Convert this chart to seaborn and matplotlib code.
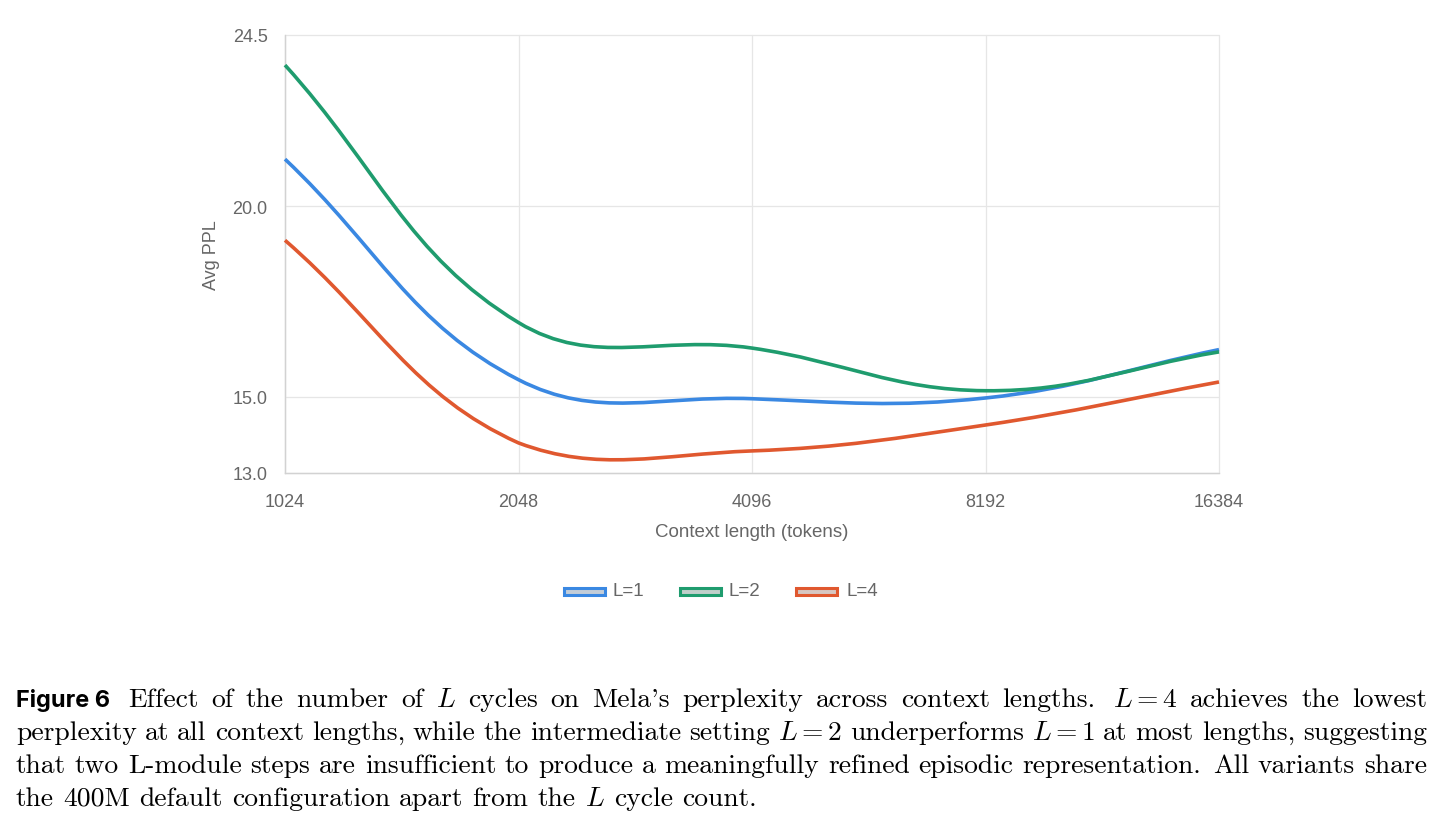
import numpy as np
import matplotlib
matplotlib.use("Agg")
import matplotlib.pyplot as plt
import seaborn as sns
from matplotlib.path import Path
from matplotlib.patches import PathPatch, Rectangle

# ---------------- data ----------------
contexts = ["1024", "2048", "4096", "8192", "16384"]
series_names = ["L=1", "L=2", "L=4"]
ppl_L1 = [21.24, 15.45, 14.95, 14.97, 16.24]
ppl_L2 = [23.71, 16.95, 16.28, 15.16, 16.18]
ppl_L4 = [19.11, 13.79, 13.58, 14.26, 15.39]
y_ticks = [13.0, 15.0, 20.0, 24.5]
x_label = "Context length (tokens)"
y_label = "Avg PPL"
caption_head = "Figure 6"
caption_lines = [
    "Effect of the number of $L$ cycles on Mela's perplexity across context lengths. $L=4$ achieves the lowest",
    "perplexity at all context lengths, while the intermediate setting $L=2$ underperforms $L=1$ at most lengths, suggesting",
    "that two L-module steps are insufficient to produce a meaningfully refined episodic representation. All variants share",
    "the 400M default configuration apart from the $L$ cycle count.",
]
colors = ["#3a88e2", "#1f9c6e", "#e0582f"]

# ---------------- style ----------------
sns.set_theme(style="white")
plt.rcParams['font.family'] = ['Liberation Sans', 'DejaVu Sans']
plt.rcParams['mathtext.fontset'] = 'cm'
TXT = "#666666"
GRID = "#e6e6e6"

W, H = 1443, 828
fig = plt.figure(figsize=(W / 100, H / 100), dpi=100)
fig.patch.set_facecolor("white")
L, R, T, B = 285, 1219, 36, 474
ax = fig.add_axes([L / W, 1 - B / H, (R - L) / W, (B - T) / H])
xs = np.arange(len(contexts))
ax.set_xlim(0, len(contexts) - 1)
ax.set_ylim(min(y_ticks), max(y_ticks))
ax.set_xticks(xs)
ax.set_xticklabels(contexts)
ax.set_yticks(y_ticks)
ax.set_yticklabels([f"{v:.1f}" for v in y_ticks])
ax.grid(True, color=GRID, lw=0.9)
ax.set_axisbelow(True)
for gl in ax.get_xgridlines() + ax.get_ygridlines():
    gl.set_clip_on(False)
sns.despine(ax=ax, top=True, right=True)
for s in ["left", "bottom"]:
    ax.spines[s].set_color("#d2d2d2")
    ax.spines[s].set_linewidth(1.0)
ax.tick_params(axis="both", direction="out", length=9.5, width=0.9, color=GRID,
               labelcolor=TXT, labelsize=13)
ax.tick_params(axis="y", pad=3)
ax.tick_params(axis="x", pad=5)
ax.set_facecolor("white")

fig.text(212 / W, 1 - 255 / H, y_label, rotation=90, ha="center", va="center",
         color=TXT, fontsize=13)
fig.text(752 / W, 1 - 533 / H, x_label, ha="center", va="center",
         color=TXT, fontsize=13.5)


# Chart.js-style spline (tension 0.4) through the data points
def chartjs_path(ax, xv, yv, t=0.4):
    pts = ax.transData.transform(np.column_stack([xv, yv]))
    n = len(pts)
    cprev, cnext = [], []
    bb = ax.bbox
    for i in range(n):
        prv = pts[i - 1] if i > 0 else pts[i]
        cur = pts[i]
        nxt = pts[i + 1] if i < n - 1 else pts[i]
        d01 = np.hypot(*(cur - prv))
        d12 = np.hypot(*(nxt - cur))
        s = d01 + d12
        s01 = d01 / s if s else 0.0
        s12 = d12 / s if s else 0.0
        p = cur - t * s01 * (nxt - prv)
        q = cur + t * s12 * (nxt - prv)
        for c in (p, q):
            c[0] = min(max(c[0], bb.x0), bb.x1)
            c[1] = min(max(c[1], bb.y0), bb.y1)
        cprev.append(p)
        cnext.append(q)
    verts = [pts[0]]
    codes = [Path.MOVETO]
    for i in range(n - 1):
        verts += [cnext[i], cprev[i + 1], pts[i + 1]]
        codes += [Path.CURVE4] * 3
    verts = ax.transData.inverted().transform(np.array(verts))
    return Path(verts, codes)


for vals, col in zip([ppl_L1, ppl_L2, ppl_L4], colors):
    path = chartjs_path(ax, xs, vals)
    ax.add_patch(PathPatch(path, facecolor="none", edgecolor=col, lw=2.6,
                           capstyle="butt", joinstyle="round", clip_on=False, zorder=3))

# ---------------- legend ----------------
leg_boxes = [562, 678, 795]
for name, col, x0 in zip(series_names, colors, leg_boxes):
    rgb = np.array(matplotlib.colors.to_rgb(col))
    face = 0.88 * np.array([0.84, 0.84, 0.84]) + 0.12 * rgb
    fig.add_artist(Rectangle(((x0 + 1.5) / W, 1 - 595.5 / H), 41 / W, 7 / H,
                             transform=fig.transFigure, facecolor=face,
                             edgecolor=col, lw=2.2))
    fig.text((x0 + 51) / W, 1 - 592 / H, name, ha="left", va="center",
             color=TXT, fontsize=13.5)

# ---------------- caption (justified) ----------------
renderer = fig.canvas.get_renderer()
left_px, right_px = 16, 1427
baselines = [707, 740, 773, 806]
base_size = 20.0


def tokens(line):
    out, cur, inmath = [], "", False
    for ch in line:
        if ch == "$":
            inmath = not inmath
            cur += ch
        elif ch == " " and not inmath:
            if cur:
                out.append(cur)
            cur = ""
        else:
            cur += ch
    if cur:
        out.append(cur)
    return out


line_toks = [tokens(l) for l in caption_lines]
texts = []
for li, toks in enumerate(line_toks):
    row = []
    for tk in toks:
        tt = fig.text(0, 0, tk, fontsize=base_size, family="cmr10", color="black",
                      ha="left", va="baseline")
        row.append(tt)
    texts.append(row)


def widths(row):
    return [t.get_window_extent(renderer).width for t in row]


# fit font size so the final (natural-spaced) line spans the measured width
target_last = 757 - left_px
w_last = widths(texts[-1])
sp_em = 0.3333
nat = sum(w_last) + (len(w_last) - 1) * sp_em * base_size * 100 / 72
size = base_size * target_last / nat
for row in texts:
    for t in row:
        t.set_fontsize(size)

head = fig.text(left_px / W, 1 - baselines[0] / H, caption_head, fontsize=15,
                family=["Inter", "Liberation Sans"], weight="bold", color="black",
                ha="left", va="baseline")
hw = head.get_window_extent(renderer).width
head.set_fontsize(15 * 94.0 / hw)

space_px = sp_em * size * 100 / 72
for li, row in enumerate(texts):
    ws = widths(row)
    start = 128 if li == 0 else left_px
    weights = [1.35 if row[k].get_text().endswith(".") else 1.0 for k in range(len(row) - 1)]
    if li < len(texts) - 1:
        gap_unit = (right_px - start - sum(ws)) / sum(weights)
    else:
        gap_unit = space_px
    x = start
    for k, t in enumerate(row):
        t.set_position((x / W, 1 - baselines[li] / H))
        x += ws[k]
        if k < len(row) - 1:
            x += gap_unit * weights[k]

fig.savefig("out.png", dpi=100, facecolor="white")
